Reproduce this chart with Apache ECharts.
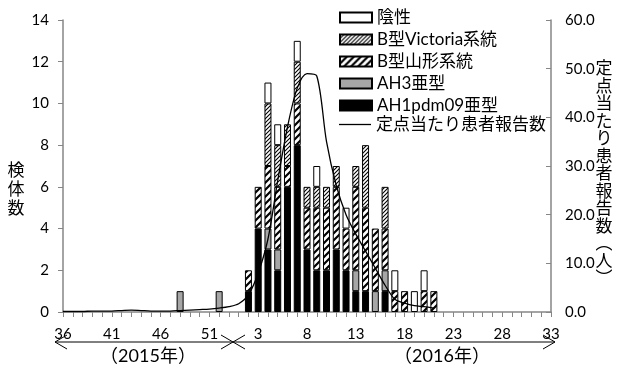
<!DOCTYPE html>
<html lang="ja">
<head>
    <meta charset="UTF-8">
    <title>インフルエンザウイルス検出状況</title>
    <script src="https://cdn.jsdelivr.net/npm/echarts@6/dist/echarts.min.js"></script>
    <style>
        * {
            margin: 0;
            padding: 0
        }

        html, body {
            width: 100%;
            height: 100%;
            background: #fff;
        }

        #main {
            width: 622px;
            height: 366px;
        }
    </style>
</head>
<body>
<div id="main"></div>
<script type="text/javascript">
    /*--------------------データ-----------------------------*/
    // 週 (2015年36週～53週, 2016年1週～33週)
    var weeks = ['36','37','38','39','40','41','42','43','44','45','46','47','48','49','50','51','52','53',
        '1','2','3','4','5','6','7','8','9','10','11','12','13','14','15','16','17','18','19','20','21',
        '22','23','24','25','26','27','28','29','30','31','32','33'];

    var ah1pdm09 = [0,0,0,0,0,0,0,0,0,0,0,0,0,0,0,0,0,0,
        0,1,4,3,2,6,8,3,2,2,3,2,1,1,0,1,0,0,0,0,0,
        0,0,0,0,0,0,0,0,0,0,0,0];
    var ah3 = [0,0,0,0,0,0,0,0,0,0,0,0,1,0,0,0,1,0,
        0,0,0,1,1,0,0,0,0,0,0,0,1,0,1,1,0,0,0,0,0,
        0,0,0,0,0,0,0,0,0,0,0,0];
    var bYamagata = [0,0,0,0,0,0,0,0,0,0,0,0,0,0,0,0,0,0,
        0,1,2,3,3,1,2,2,3,3,3,2,4,4,3,2,1,1,0,1,1,
        0,0,0,0,0,0,0,0,0,0,0,0];
    var bVictoria = [0,0,0,0,0,0,0,0,0,0,0,0,0,0,0,0,0,0,
        0,0,0,3,2,2,2,1,1,1,1,0,1,3,0,2,0,0,0,0,0,
        0,0,0,0,0,0,0,0,0,0,0,0];
    var negative = [0,0,0,0,0,0,0,0,0,0,0,0,0,0,0,0,0,0,
        0,0,0,1,1,0,1,0,1,0,0,1,0,0,0,0,1,0,1,1,0,
        0,0,0,0,0,0,0,0,0,0,0,0];
    // 定点当たり患者報告数
    var perSentinel = [0.1,0.1,0.1,0.2,0.2,0.2,0.3,0.4,0.3,0.2,0.2,0.2,0.3,0.4,0.5,0.6,0.8,1.1,
        1.7,3.5,8.0,15.0,27.0,38.0,46.0,49.0,48.5,35.0,26.0,20.0,16.0,12.5,9.0,5.5,2.6,1.8,1.3,1.1,0.8,
        null,null,null,null,null,null,null,null,null,null,null,null];

    var leftTicks = [0, 14, 2];
    var rightTicks = [0, 60, 10];

    /*--------------------ハッチング-----------------------------*/
    function hatch(size, width) {
        var c = document.createElement('canvas');
        c.width = size;
        c.height = size;
        var g = c.getContext('2d');
        g.fillStyle = '#fff';
        g.fillRect(0, 0, size, size);
        g.strokeStyle = '#000';
        g.lineWidth = width;
        g.beginPath();
        g.moveTo(0, size); g.lineTo(size, 0);
        g.moveTo(-size / 2, size / 2); g.lineTo(size / 2, -size / 2);
        g.moveTo(size / 2, size * 1.5); g.lineTo(size * 1.5, size / 2);
        g.stroke();
        return {image: c, repeat: 'repeat'};
    }

    function noZero(arr) {
        return arr.map(function (v) { return v === 0 ? '-' : v; });
    }

    var font = 'Lato, "Noto Sans CJK JP", sans-serif';
    var axisGray = '#868686';
    var legendText = {fontSize: 17, color: '#000', lineHeight: 17, fontFamily: font};

    function barSeries(name, data, color) {
        return {
            name: name,
            type: 'bar',
            stack: 'kentai',
            barWidth: 7,
            data: noZero(data),
            itemStyle: {color: color, borderColor: '#000', borderWidth: 1}
        };
    }

    var myChart = echarts.init(document.getElementById('main'));
    myChart.setOption({
        animation: false,
        textStyle: {fontFamily: font},
        grid: {left: 63, right: 71, top: 20, bottom: 54},
        legend: [{
            orient: 'vertical',
            left: 334,
            top: 4,
            itemWidth: 32,
            itemHeight: 10,
            itemGap: 5,
            icon: 'rect',
            textStyle: legendText,
            data: ['陰性', 'B型Victoria系統', 'B型山形系統', 'AH3亜型', 'AH1pdm09亜型']
        }, {
            // 折れ線の凡例 (線のみ)
            orient: 'vertical',
            left: 334,
            top: 111,
            itemWidth: 32,
            itemHeight: 1.3,
            icon: 'rect',
            textStyle: legendText,
            data: ['定点当たり患者報告数']
        }],
        xAxis: {
            type: 'category',
            data: weeks,
            boundaryGap: false,
            axisLine: {lineStyle: {color: axisGray, width: 1.5}},
            axisTick: {interval: 0, length: 5, lineStyle: {color: axisGray}},
            axisLabel: {interval: 4, margin: 15, fontSize: 15, color: '#000'}
        },
        yAxis: [{
            type: 'value',
            min: leftTicks[0],
            max: leftTicks[1],
            interval: leftTicks[2],
            splitLine: {show: false},
            axisLine: {show: true, lineStyle: {color: axisGray, width: 1.5}},
            axisTick: {show: true, length: 5, lineStyle: {color: axisGray}},
            axisLabel: {margin: 14, fontSize: 15, color: '#000'}
        }, {
            type: 'value',
            min: rightTicks[0],
            max: rightTicks[1],
            interval: rightTicks[2],
            splitLine: {show: false},
            axisLine: {show: true, lineStyle: {color: axisGray, width: 1.5}},
            axisTick: {show: true, inside: true, length: 5, lineStyle: {color: axisGray}},
            axisLabel: {
                margin: 14, fontSize: 15, color: '#000',
                formatter: function (v) { return v.toFixed(1); }
            }
        }],
        graphic: [
            // 軸タイトル
            {type: 'text', x: 16, y: 190, style: {
                text: '検\n体\n数', font: '17px ' + font, lineHeight: 19, fill: '#000',
                align: 'center', verticalAlign: 'middle'
            }},
            {type: 'text', x: 604, y: 174, style: {
                text: '定\n点\n当\nた\nり\n患\n者\n報\n告\n数\n︵\n人\n︶',
                font: '17px ' + font, lineHeight: 17.5, fill: '#000',
                align: 'center', verticalAlign: 'middle'
            }},
            // 年の矢印
            {type: 'line', shape: {x1: 55, y1: 342, x2: 233, y2: 342}, style: {stroke: '#000', lineWidth: 1}},
            {type: 'polyline', shape: {points: [[67, 335], [55, 342], [67, 349]]}, style: {stroke: '#000', fill: null, lineWidth: 1}},
            {type: 'polyline', shape: {points: [[221, 335], [233, 342], [221, 349]]}, style: {stroke: '#000', fill: null, lineWidth: 1}},
            {type: 'line', shape: {x1: 233, y1: 342, x2: 555, y2: 342}, style: {stroke: '#000', lineWidth: 1}},
            {type: 'polyline', shape: {points: [[245, 335], [233, 342], [245, 349]]}, style: {stroke: '#000', fill: null, lineWidth: 1}},
            {type: 'polyline', shape: {points: [[543, 335], [555, 342], [543, 349]]}, style: {stroke: '#000', fill: null, lineWidth: 1}},
            {type: 'text', x: 148, y: 356, style: {text: '（2015年）', font: '18px ' + font, fill: '#000', align: 'center', verticalAlign: 'middle'}},
            {type: 'text', x: 442, y: 356, style: {text: '（2016年）', font: '18px ' + font, fill: '#000', align: 'center', verticalAlign: 'middle'}}
        ],
        series: [
            barSeries('AH1pdm09亜型', ah1pdm09, '#000'),
            barSeries('AH3亜型', ah3, '#a6a6a6'),
            barSeries('B型山形系統', bYamagata, hatch(7, 2.2)),
            barSeries('B型Victoria系統', bVictoria, hatch(4, 1.1)),
            barSeries('陰性', negative, '#fff'),
            {
                name: '定点当たり患者報告数',
                type: 'line',
                yAxisIndex: 1,
                smooth: 0.3,
                symbol: 'none',
                data: perSentinel,
                lineStyle: {color: '#000', width: 1.3},
                itemStyle: {color: '#000'},
                z: 3
            }
        ]
    });
</script>
</body>
</html>
